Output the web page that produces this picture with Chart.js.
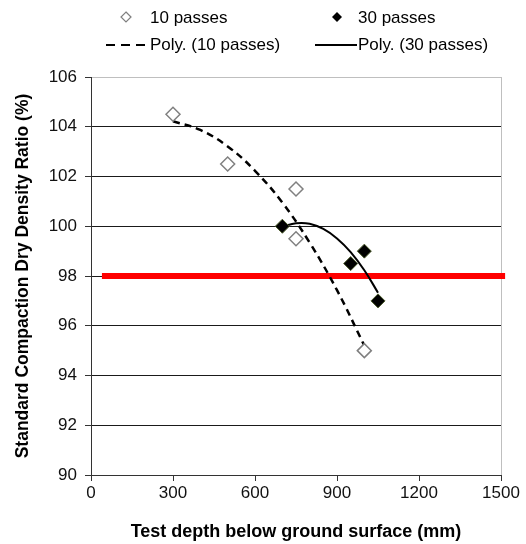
<!DOCTYPE html>
<html>
<head>
<meta charset="utf-8">
<script src="https://cdn.jsdelivr.net/npm/chart.js@4/dist/chart.umd.min.js"></script>
<style>
  html, body { margin: 0; padding: 0; background: #fff; }
  #wrap { width: 526px; height: 544px; }
</style>
</head>
<body>
<div id="wrap"><canvas id="chart" width="526" height="544"></canvas></div>
<script>
const depth10 = [300, 500, 750, 750, 1000];
const ratio10 = [104.5, 102.5, 101.5, 99.5, 95.0];
const depth30 = [700, 950, 1000, 1050];
const ratio30 = [100.0, 98.5, 99.0, 97.0];

// Courbes de tendance (poly. ordre 2)
const trendX10 = [300, 400, 500, 600, 700, 800, 900, 1000];
const trendY10 = [104.22, 103.87, 103.21, 102.23, 100.95, 99.34, 97.43, 95.20];
const trendX30 = [700, 750, 800, 850, 900, 950, 1000, 1050];
const trendY30 = [99.98, 100.12, 100.10, 99.89, 99.51, 98.96, 98.23, 97.33];

// Limite 98 %
const limitX = [40, 1515];
const limitY = [98, 98];

const legendNames = ['10 passes', '30 passes', 'Poly. (10 passes)', 'Poly. (30 passes)'];

const toPoints = (xs, ys) => xs.map((x, i) => ({ x: x, y: ys[i] }));

const FONT = 'Liberation Sans, Arial, sans-serif';

// Legende sur deux colonnes, comme dans Excel
const legendPlugin = {
    id: 'twoColLegend',
    afterDraw(chart) {
        const ctx = chart.ctx;
        ctx.save();
        ctx.font = '17px ' + FONT;
        ctx.fillStyle = '#000';
        ctx.textBaseline = 'middle';

        // 10 passes
        ctx.beginPath();
        ctx.moveTo(126, 12); ctx.lineTo(131, 17); ctx.lineTo(126, 22); ctx.lineTo(121, 17); ctx.closePath();
        ctx.strokeStyle = '#7f7f7f'; ctx.lineWidth = 1.2; ctx.stroke();
        ctx.fillText(legendNames[0], 150, 18);

        // 30 passes
        ctx.beginPath();
        ctx.moveTo(337, 12); ctx.lineTo(342, 17); ctx.lineTo(337, 22); ctx.lineTo(332, 17); ctx.closePath();
        ctx.fillStyle = '#000'; ctx.fill();
        ctx.fillText(legendNames[1], 358, 18);

        // Poly. (10 passes)
        ctx.beginPath();
        ctx.setLineDash([9, 6]);
        ctx.moveTo(106, 45); ctx.lineTo(148, 45);
        ctx.strokeStyle = '#000'; ctx.lineWidth = 2; ctx.stroke();
        ctx.setLineDash([]);
        ctx.fillText(legendNames[2], 150, 45);

        // Poly. (30 passes)
        ctx.beginPath();
        ctx.moveTo(315, 45); ctx.lineTo(357, 45);
        ctx.lineWidth = 2; ctx.stroke();
        ctx.fillText(legendNames[3], 358, 45);
        ctx.restore();
    }
};

const chart = new Chart(document.getElementById('chart'), {
    type: 'scatter',
    data: {
        datasets: [
            {
                label: legendNames[0],
                data: toPoints(depth10, ratio10),
                pointStyle: 'rectRot',
                pointRadius: 7,
                pointHoverRadius: 7,
                pointBackgroundColor: '#ffffff',
                pointBorderColor: '#808080',
                pointBorderWidth: 1.5,
                order: 1
            },
            {
                label: legendNames[1],
                data: toPoints(depth30, ratio30),
                pointStyle: 'rectRot',
                pointRadius: 7,
                pointHoverRadius: 7,
                pointBackgroundColor: '#000000',
                pointBorderColor: '#4a5a2a',
                pointBorderWidth: 1,
                order: 0
            },
            {
                label: legendNames[2],
                data: toPoints(trendX10, trendY10),
                showLine: true,
                pointRadius: 0,
                borderColor: '#000',
                borderWidth: 2.5,
                borderDash: [7, 5],
                tension: 0.4,
                order: 2
            },
            {
                label: legendNames[3],
                data: toPoints(trendX30, trendY30),
                showLine: true,
                pointRadius: 0,
                borderColor: '#000',
                borderWidth: 2,
                tension: 0.4,
                order: 2
            },
            {
                label: 'Limite',
                data: toPoints(limitX, limitY),
                showLine: true,
                pointRadius: 0,
                borderColor: '#ff0000',
                borderWidth: 6,
                clip: false,
                order: 3
            }
        ]
    },
    options: {
        responsive: false,
        animation: false,
        events: [],
        layout: { padding: { top: 77, right: 25, left: 0, bottom: 0 } },
        plugins: {
            legend: { display: false },
            tooltip: { enabled: false }
        },
        scales: {
            x: {
                type: 'linear',
                min: 0,
                max: 1500,
                ticks: {
                    stepSize: 300,
                    color: '#111',
                    padding: 2,
                    font: { size: 17, family: FONT },
                    callback: v => String(v)
                },
                grid: {
                    color: c => (c.tick && c.tick.value === 1500) ? '#bfbfbf' : 'rgba(0,0,0,0)',
                    tickColor: '#333',
                    tickLength: 6
                },
                border: { color: '#333', width: 1 },
                title: {
                    display: true,
                    text: 'Test depth below ground surface (mm)',
                    color: '#000',
                    font: { size: 18, weight: 'bold', family: FONT },
                    padding: { top: 4, bottom: 1 }
                },
                afterFit(scale) { scale.height = 69; }
            },
            y: {
                min: 90,
                max: 106,
                ticks: { stepSize: 2, color: '#111', padding: 8, font: { size: 17, family: FONT } },
                grid: {
                    color: c => (c.tick && c.tick.value === 106) ? '#bfbfbf' : '#1a1a1a',
                    tickColor: '#333',
                    tickLength: 6
                },
                border: { color: '#333', width: 1 },
                title: {
                    display: true,
                    text: 'Standard Compaction Dry Density Ratio (%)',
                    color: '#000',
                    font: { size: 17.5, weight: 'bold', family: FONT },
                    padding: { top: 13, bottom: 4 }
                },
                afterFit(scale) { scale.width = 91; }
            }
        }
    },
    plugins: [legendPlugin]
});
</script>
</body>
</html>
